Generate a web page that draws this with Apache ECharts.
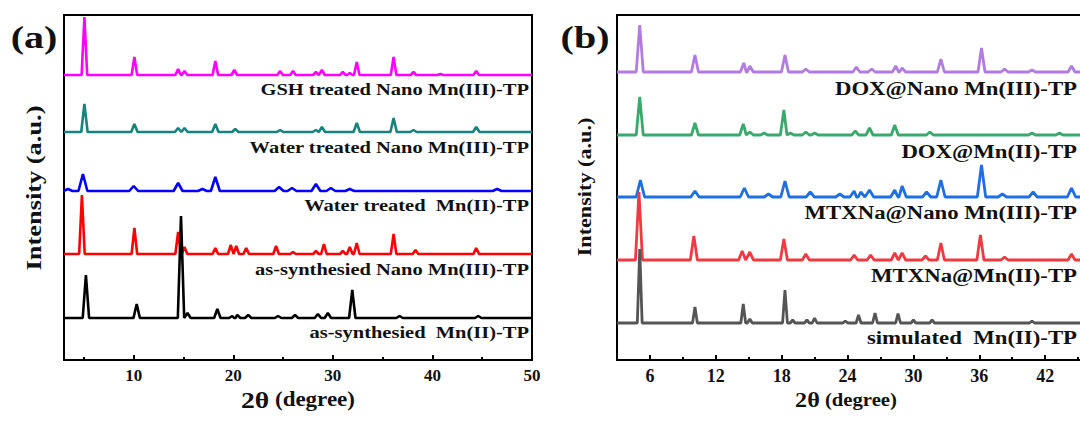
<!DOCTYPE html>
<html>
<head>
<meta charset="utf-8">
<script src="https://cdn.jsdelivr.net/npm/echarts@6/dist/echarts.min.js"></script>
<style>html,body{margin:0;padding:0;background:#fff}#c{width:1080px;height:421px}</style>
</head>
<body>
<div id="c"></div>
<script>
// ---------- axis ranges and ticks ----------
const X_MIN = 3, X_MAX = 50;
const Y_MIN = 0, Y_MAX = 345;
const ticksA = [10, 20, 30, 40, 50];
const minorTicksA = [5, 15, 25, 35, 45];
const ticksB = [6, 12, 18, 24, 30, 36, 42];
const minorTicksB = [3, 9, 15, 21, 27, 33, 39, 45];

// ---------- panel (a) ----------
const namesA = ['GSH treated Nano Mn(III)-TP', 'Water treated Nano Mn(III)-TP', 'Water treated  Mn(II)-TP', 'as-synthesied Nano Mn(III)-TP', 'as-synthesied  Mn(II)-TP'];
const colorsA = ['#ff00ff', '#17837f', '#0000ff', '#ff0000', '#000000'];
const baselinesA = [285, 228, 169, 106, 42];
const peakWidthA = [0.28, 0.32, 0.45, 0.28, 0.32];
// peaks: [2θ, height above baseline]
const gshNanoPeaks = [[5.05,58],[10.07,18],[14.46,6],[15.1,4],[18.2,14],[20.1,5],[24.7,4],[26.0,4],[28.3,3],[28.9,5],[31.0,3],[31.7,2],[32.4,13],[36.1,18],[38.1,3],[40.8,1],[44.4,4]];
const waterNanoPeaks = [[5.05,28],[10.07,8],[14.46,4],[15.1,4],[18.2,8],[20.2,3],[24.7,2],[28.3,2],[28.9,5],[32.4,9],[36.1,14],[38.1,2],[44.4,5]];
const waterMnPeaks = [[3.4,2],[4.9,17],[10.0,5],[14.46,8],[16.9,2],[18.2,14],[24.6,4],[25.9,3],[28.3,7],[29.8,3],[31.7,2],[46.5,2]];
const asNanoPeaks = [[4.8,59],[10.07,26],[14.46,22],[15.1,7],[18.2,6],[19.75,9],[20.3,8],[21.3,6],[24.3,8],[26.0,2],[28.3,3],[29.1,10],[31.0,3],[31.7,7],[32.4,11],[36.1,20],[38.3,4],[44.4,6]];
const asMnPeaks = [[5.2,43],[10.3,14],[14.75,102],[15.4,5],[18.4,9],[19.9,2],[20.4,3],[21.5,3],[24.5,2],[26.2,3],[28.5,4],[29.5,5],[31.95,28],[36.7,2],[44.6,2]];
const peaksA = [gshNanoPeaks, waterNanoPeaks, waterMnPeaks, asNanoPeaks, asMnPeaks];

// ---------- panel (b) ----------
const namesB = ['DOX@Nano Mn(III)-TP', 'DOX@Mn(II)-TP', 'MTXNa@Nano Mn(III)-TP', 'MTXNa@Mn(II)-TP', 'simulated  Mn(II)-TP'];
const colorsB = ['#b27ae2', '#3aaa6c', '#1f6fe4', '#f03a40', '#555555'];
const baselinesB = [288, 225, 163, 100, 37];
const peakWidthB = [0.32, 0.32, 0.38, 0.32, 0.22];
const doxNanoPeaks = [[5.07,47],[10.1,17],[14.55,9],[15.1,6],[18.3,17],[20.2,3],[24.8,5],[26.2,3],[28.4,6],[28.97,4],[32.5,13],[36.2,24],[38.3,3],[40.8,2],[44.4,6]];
const doxMnPeaks = [[5.07,38],[10.1,12],[14.5,11],[15.1,3],[16.4,2],[18.2,25],[18.8,2],[20.2,3],[21.0,2],[24.7,4],[26.0,7],[28.3,10],[31.5,3],[40.8,2],[43.3,2]];
const mtxNanoPeaks = [[5.13,17],[10.1,6],[14.6,9],[16.8,3],[18.3,16],[20.6,5],[23.3,3],[24.6,6],[25.2,5],[26.0,7],[28.3,7],[28.97,11],[31.2,5],[32.5,17],[36.2,32],[38.1,3],[40.9,5],[44.4,9]];
const mtxMnPeaks = [[5.0,68],[10.0,24],[14.4,9],[15.1,8],[18.2,21],[20.2,6],[24.6,5],[26.1,5],[28.3,7],[28.97,7],[31.1,4],[32.5,17],[36.1,25],[38.3,3],[44.4,6]];
const simMnPeaks = [[5.07,74],[10.1,16],[14.5,19],[15.1,4],[18.3,33],[19.0,3],[20.3,3],[21.0,5],[23.8,2],[25.0,8],[26.5,10],[28.6,9.5],[30.0,3],[31.7,3],[40.8,2]];
const peaksB = [doxNanoPeaks, doxMnPeaks, mtxNanoPeaks, mtxMnPeaks, simMnPeaks];

// ---------- build ----------
function buildLine(peaks, base, hw) {
  const pts = [[X_MIN, base]];
  peaks.forEach(([c, h]) => { pts.push([c - hw, base], [c, base + h], [c + hw, base]); });
  pts.push([X_MAX, base]);
  pts.sort((a, b) => a[0] - b[0]);
  return pts;
}

const FONT = '"Liberation Serif", "Times New Roman", serif';

function mainX(grid, ticks, size) {
  return {
    type: 'value', gridIndex: grid, min: X_MIN, max: X_MAX, position: 'bottom',
    axisLine: { show: true, lineStyle: { color: '#000', width: 2 } },
    axisTick: { show: true, inside: true, length: 5, customValues: ticks, lineStyle: { color: '#000', width: 2 } },
    axisLabel: { customValues: ticks, fontFamily: FONT, fontWeight: 'bold', fontSize: size, color: '#111', margin: 7 },
    splitLine: { show: false }
  };
}
function minorX(grid, ticks) {
  return {
    type: 'value', gridIndex: grid, min: X_MIN, max: X_MAX, position: 'bottom',
    axisLine: { show: false },
    axisTick: { show: true, inside: true, length: 3, customValues: ticks, lineStyle: { color: '#000', width: 2 } },
    axisLabel: { show: false },
    splitLine: { show: false }
  };
}

const series = [];
namesA.forEach((n, i) => series.push({
  name: n, type: 'line', xAxisIndex: 0, yAxisIndex: 0, showSymbol: false, symbol: 'none',
  lineStyle: { color: colorsA[i], width: 2.6 }, data: buildLine(peaksA[i], baselinesA[i], peakWidthA[i])
}));
namesB.forEach((n, i) => series.push({
  name: n, type: 'line', xAxisIndex: 2, yAxisIndex: 1, showSymbol: false, symbol: 'none',
  lineStyle: { color: colorsB[i], width: 2.8 }, data: buildLine(peaksB[i], baselinesB[i], peakWidthB[i])
}));

function txt(text, x, y, size, align, opts) {
  opts = opts || {};
  return {
    type: 'text', x: x, y: y, scaleX: opts.sx || 1.25, rotation: opts.rot || 0,
    style: {
      text: text, fontFamily: FONT, fontWeight: 'bold', fontSize: size, fill: '#111',
      textAlign: align, align: align, textVerticalAlign: 'middle', verticalAlign: 'middle', rich: opts.rich
    }
  };
}

const labelYA = [90, 148, 206, 270, 333];
const labelYB = [89, 152, 213, 276, 338];
const graphics = [];
namesA.forEach((n, i) => graphics.push(txt(n, 529, labelYA[i], 16, 'right', { sx: 1.28 })));
namesB.forEach((n, i) => graphics.push(txt(n, 1077, labelYB[i], 19, 'right', { sx: 1.2 })));
graphics.push(txt('(a)', 34, 37, 32, 'center', { sx: 1.25 }));
graphics.push(txt('(b)', 585, 37, 32, 'center', { sx: 1.25 }));
graphics.push(txt('Intensity (a.u.)', 33, 188, 22, 'center', { sx: 1.2, rot: Math.PI / 2 }));
graphics.push(txt('Intensity (a.u.)', 585, 187, 18.5, 'center', { sx: 1.2, rot: Math.PI / 2 }));
graphics.push(txt('{a|2θ} {b|(degree)}', 298, 400, 20, 'center', { sx: 1.15, rich: {
  a: { fontFamily: FONT, fontWeight: 'bold', fontSize: 24, fill: '#111' },
  b: { fontFamily: FONT, fontWeight: 'bold', fontSize: 20, fill: '#111' } } }));
graphics.push(txt('{a|2θ} {b|(degree)}', 846, 400, 18, 'center', { sx: 1.15, rich: {
  a: { fontFamily: FONT, fontWeight: 'bold', fontSize: 21, fill: '#111' },
  b: { fontFamily: FONT, fontWeight: 'bold', fontSize: 18, fill: '#111' } } }));

const chart = echarts.init(document.getElementById('c'), null, { renderer: 'svg' });
chart.setOption({
  animation: false,
  backgroundColor: '#fff',
  grid: [
    { left: 64, top: 15, width: 468, height: 345, show: true, borderColor: '#000', borderWidth: 2, backgroundColor: 'transparent', containLabel: false, outerBoundsMode: 'none' },
    { left: 617, top: 15, width: 516, height: 345, show: true, borderColor: '#000', borderWidth: 2, backgroundColor: 'transparent', containLabel: false, outerBoundsMode: 'none' }
  ],
  xAxis: [mainX(0, ticksA, 17), minorX(0, minorTicksA), mainX(1, ticksB, 18), minorX(1, minorTicksB)],
  yAxis: [
    { type: 'value', gridIndex: 0, min: Y_MIN, max: Y_MAX, show: false },
    { type: 'value', gridIndex: 1, min: Y_MIN, max: Y_MAX, show: false }
  ],
  series: series,
  graphic: { elements: graphics }
});
</script>
</body>
</html>
